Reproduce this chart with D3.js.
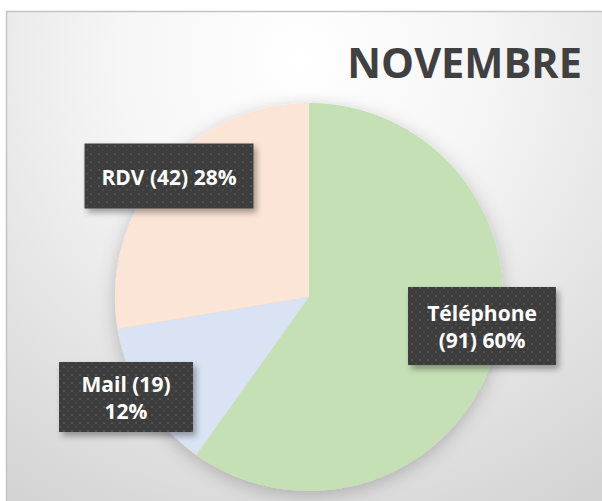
<!DOCTYPE html>
<html>
<head>
<meta charset="utf-8">
<script src="https://cdn.jsdelivr.net/npm/d3@7"></script>
<style>
  html, body { margin: 0; padding: 0; background: #fff; }
  svg { display: block; }
</style>
</head>
<body>
<div id="chart"></div>
<script>
const title = "NOVEMBRE";
const categories = ["Téléphone", "Mail", "RDV"];
const values = [91, 19, 42];
const percentLabels = ["60%", "12%", "28%"];
const colors = ["#c5e0b4", "#dae3f3", "#fbe5d6"];

// label callouts, placed by hand like in the workbook (offset from pie centre)
const callouts = [
    { dx: 173, dy: 29, w: 148, h: 78, lines: d => [d.cat, "(" + d.value + ") " + d.pct] },
    { dx: -183, dy: 100, w: 134, h: 70, lines: d => [d.cat + " (" + d.value + ")", d.pct] },
    { dx: -140, dy: -121, w: 169, h: 65, lines: d => [d.cat + " (" + d.value + ") " + d.pct] }
];

const width = 602, height = 501;
const cx = 309, cy = 297, radius = 194;

const svg = d3.select("#chart").append("svg")
    .attr("width", width)
    .attr("height", height);

const defs = svg.append("defs");

const bg = defs.append("radialGradient")
    .attr("id", "bg")
    .attr("gradientUnits", "userSpaceOnUse")
    .attr("cx", 300).attr("cy", 60).attr("r", 520);
bg.append("stop").attr("offset", "0%").attr("stop-color", "#ffffff");
bg.append("stop").attr("offset", "35%").attr("stop-color", "#f6f6f6");
bg.append("stop").attr("offset", "100%").attr("stop-color", "#d4d4d4");

const pieShadow = defs.append("filter").attr("id", "pieShadow")
    .attr("x", "-20%").attr("y", "-20%").attr("width", "140%").attr("height", "140%");
pieShadow.append("feDropShadow")
    .attr("dx", 0).attr("dy", 4).attr("stdDeviation", 9)
    .attr("flood-color", "#000").attr("flood-opacity", 0.22);

const boxShadow = defs.append("filter").attr("id", "boxShadow")
    .attr("x", "-20%").attr("y", "-20%").attr("width", "140%").attr("height", "150%");
boxShadow.append("feDropShadow")
    .attr("dx", 3).attr("dy", 4).attr("stdDeviation", 3)
    .attr("flood-color", "#000").attr("flood-opacity", 0.35);

const dots = defs.append("pattern")
    .attr("id", "dots")
    .attr("patternUnits", "userSpaceOnUse")
    .attr("width", 8).attr("height", 8);
dots.append("rect").attr("width", 8).attr("height", 8).attr("fill", "#3d3d3d");
dots.append("rect").attr("x", 1).attr("y", 1).attr("width", 2).attr("height", 2).attr("fill", "#525252");
dots.append("rect").attr("x", 5).attr("y", 5).attr("width", 2).attr("height", 2).attr("fill", "#484848");

// chart area with frame (right and bottom edges run off the picture)
svg.append("rect")
    .attr("x", 6.5).attr("y", 11.5)
    .attr("width", width + 10).attr("height", height + 10)
    .attr("fill", "url(#bg)")
    .attr("stroke", "#c3c3c3")
    .attr("stroke-width", 1.5);

svg.append("text")
    .attr("x", 582).attr("y", 78)
    .attr("text-anchor", "end")
    .attr("font-family", "'Open Sans', sans-serif")
    .attr("font-weight", "bold")
    .attr("font-size", 41.5)
    .attr("fill", "#404040")
    .text(title);

const data = categories.map((cat, i) => ({ cat, value: values[i], pct: percentLabels[i], color: colors[i] }));

const pie = d3.pie().value(d => d.value).sort(null);
const arc = d3.arc().innerRadius(0).outerRadius(radius);

const g = svg.append("g").attr("transform", `translate(${cx},${cy})`);

g.append("g")
    .attr("filter", "url(#pieShadow)")
    .selectAll("path")
    .data(pie(data))
    .join("path")
    .attr("d", arc)
    .attr("fill", d => d.data.color);

const labels = g.selectAll("g.callout")
    .data(pie(data))
    .join("g")
    .attr("class", "callout")
    .attr("transform", (d, i) => `translate(${callouts[i].dx},${callouts[i].dy})`);

labels.append("rect")
    .attr("x", (d, i) => -callouts[i].w / 2)
    .attr("y", (d, i) => -callouts[i].h / 2)
    .attr("width", (d, i) => callouts[i].w)
    .attr("height", (d, i) => callouts[i].h)
    .attr("fill", "url(#dots)")
    .attr("filter", "url(#boxShadow)");

labels.each(function (d, i) {
    const lines = callouts[i].lines(d.data);
    const lh = 27.5;
    const t = d3.select(this).append("text")
        .attr("text-anchor", "middle")
        .attr("font-family", "'Open Sans', sans-serif")
        .attr("font-weight", "bold")
        .attr("font-size", 21)
        .attr("fill", "#ffffff");
    lines.forEach((line, k) => {
        t.append("tspan")
            .attr("x", 0)
            .attr("y", (k - (lines.length - 1) / 2) * lh + 8.5)
            .text(line);
    });
});
</script>
</body>
</html>
